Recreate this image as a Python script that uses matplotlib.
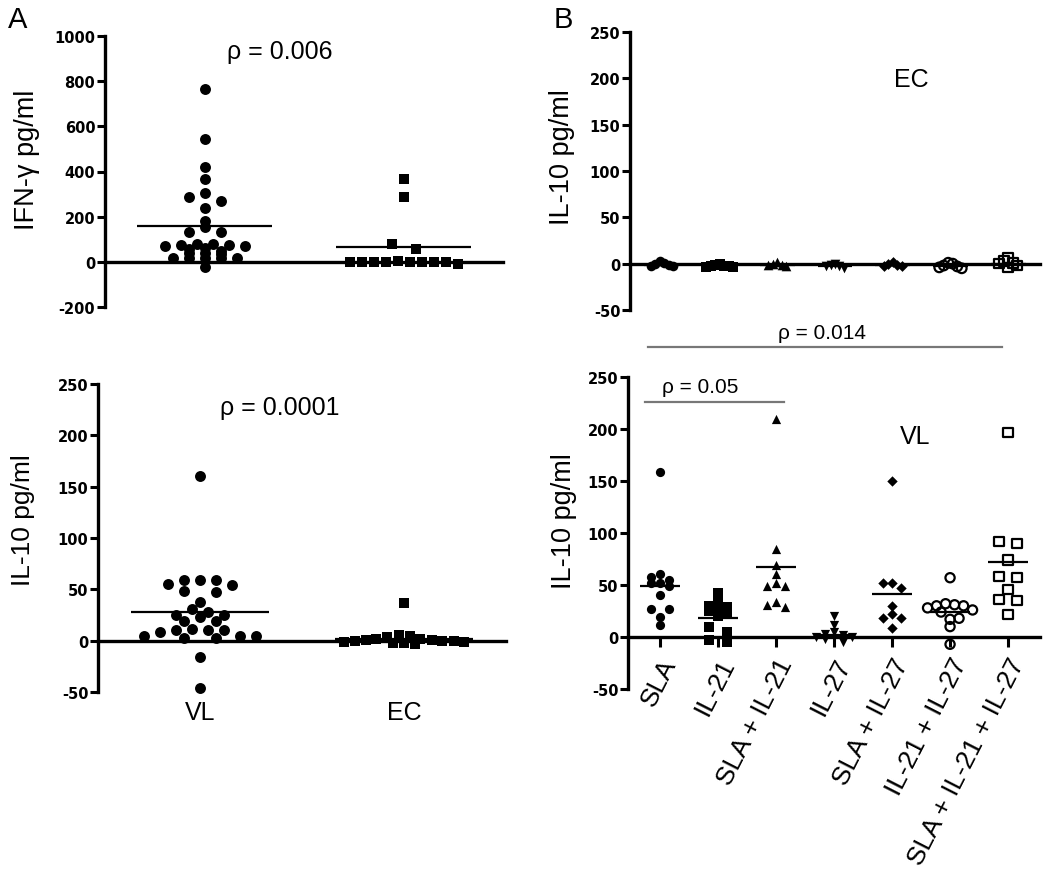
import numpy as np
import matplotlib
matplotlib.use('Agg')
import matplotlib.pyplot as plt
from matplotlib.transforms import blended_transform_factory

plt.rcParams['font.family'] = ['Liberation Sans', 'DejaVu Sans']
plt.rcParams['axes.unicode_minus'] = False

# ---------------- data ----------------
groups_A = ['VL', 'EC']
ifng_VL = [764, 546, 420, 366, 305, 285, 270, 239, 180, 153, 133, 133, 80, 78, 76, 74,
           72, 70, 60, 55, 50, 40, 38, 36, 18, 18, 18, 18, 18, -22]
ifng_EC = [365, 285, 78, 58, 3, 0, 0, 0, 0, 0, 0, 0, 0, -10]
ifng_means = [160, 66]

il10A_VL = [160, 59, 59, 59, 55, 54, 48, 47, 38, 31, 28, 25, 25, 23, 19, 19, 11, 10,
            10, 10, 8, 5, 5, 5, 3, 3, -16, -46]
il10A_EC = [37, 6, 5, 4, 2, 2, 1, 1, 0, 0, 0, -1, -1, -2, -2, -3]
il10A_means = [28, 2]

groups_B = ['SLA', 'IL-21', 'SLA + IL-21', 'IL-27', 'SLA + IL-27',
            'IL-21 + IL-27', 'SLA + IL-21 + IL-27']
# EC (upper panel B)
ec_sla = [3, 1, 0, -1, -2, -3]
ec_il21 = [0, -1, -2, -3, -3, -4, -4]
ec_sla_il21 = [2, 0, -1, -1, -2]
ec_il27 = [0, -1, -2, -3, -5]
ec_sla_il27 = [2, 0, -1, -2, -3]
ec_il21_il27 = [1, 0, -2, -3, -4, -5]
ec_all = [6, 3, 1, 0, -2, -4]
ec_means = [-1, -2, -1, -2, -1, -2, 0]
# VL (lower panel B)
vl_sla = [159, 61, 58, 55, 52, 52, 49, 40, 27, 27, 19, 12]
vl_il21 = [42, 34, 30, 29, 27, 25, 23, 20, 10, 5, -3, -5]
vl_sla_il21 = [210, 85, 69, 61, 52, 49, 49, 34, 31, 29]
vl_il27 = [20, 12, 5, 3, 2, 0, 0, -2, -5]
vl_sla_il27 = [150, 52, 52, 47, 30, 22, 18, 18, 9]
vl_il21_il27 = [57, 32, 31, 30, 30, 28, 26, 24, 18, 17, 10, -7]
vl_all = [197, 92, 90, 74, 58, 57, 46, 36, 35, 22]
vl_means = [49, 18, 67, 2, 41, 24, 72]

markers_B = ['o', 's', '^', 'v', 'D', 'o', 's']
filled_B = [True, True, True, True, True, False, False]

# ---------------- helpers ----------------
W, H = 1050, 879
fig = plt.figure(figsize=(W / 100, H / 100), dpi=100)


def px_axes(left, right, top, bottom):
    return fig.add_axes([left / W, 1 - bottom / H, (right - left) / W, (bottom - top) / H])


def swarm_x(ax, xc, values, col_px, row_px):
    """Prism-like scatter: values (sorted high->low) grouped into rows whose
    pixel span is < row_px; each row spread symmetrically with spacing col_px."""
    tr = ax.transData
    vals = np.asarray(values, dtype=float)
    ypix = np.array([tr.transform((xc, v))[1] for v in vals])
    x0 = tr.transform((xc, 0))[0]
    order = np.argsort(-vals, kind='stable')
    rows, cur = [], [order[0]]
    for i in order[1:]:
        if ypix[cur[0]] - ypix[i] < row_px:
            cur.append(i)
        else:
            rows.append(cur)
            cur = [i]
    rows.append(cur)
    offs = np.zeros(len(vals))
    for idx in rows:
        n = len(idx)
        if n == 2:
            slots = np.array([-col_px, col_px])
        else:
            slots = (np.arange(n) - (n - 1) / 2.0) * col_px
        slot_order = np.argsort(np.abs(slots) + 1e-3 * slots, kind='stable')
        for k, i in enumerate(idx):
            offs[i] = slots[slot_order[k]]
    inv = tr.inverted()
    return np.array([inv.transform((x0 + o, ypix[i]))[0] for i, o in enumerate(offs)])


def style_axes(ax, ylim, yticks):
    ax.set_ylim(*ylim)
    ax.set_yticks(yticks)
    for s in ['top', 'right']:
        ax.spines[s].set_visible(False)
    ax.spines['left'].set_linewidth(2.4)
    ax.spines['bottom'].set_linewidth(2.4)
    ax.spines['bottom'].set_position(('data', 0))
    ax.spines['left'].set_bounds(ylim[0], ylim[1])
    ax.tick_params(axis='y', direction='out', length=6, width=2.2, pad=1,
                   labelsize=10.5)
    for lab in ax.get_yticklabels():
        lab.set_fontweight('bold')
        lab.set_family('DejaVu Sans')
    ax.patch.set_alpha(0)


def draw_group(ax, xc, values, mean, marker, filled, size, col_px, row_px, half):
    xs = swarm_x(ax, xc, values, col_px, row_px)
    if filled:
        ax.scatter(xs, values, s=size, marker=marker, color='black', zorder=4,
                   clip_on=False, linewidths=0)
    else:
        ax.scatter(xs, values, s=size, marker=marker, facecolors='none',
                   edgecolors='black', linewidths=1.6, zorder=4, clip_on=False)
    ax.hlines(mean, xc - half, xc + half, color='black', lw=1.6, zorder=5)


# ---------------- Panel A top ----------------
axA1 = px_axes(105, 503, 37, 308)
axA1.set_xlim(0.5, 2.5)
style_axes(axA1, (-200, 1000), [-200, 0, 200, 400, 600, 800, 1000])
axA1.set_xticks([])
draw_group(axA1, 1, ifng_VL, ifng_means[0], 'o', True, 62, 16, 4.5, 0.34)
draw_group(axA1, 2, ifng_EC, ifng_means[1], 's', True, 52, 12, 6, 0.34)
axA1.set_ylabel('IFN-γ pg/ml', fontsize=19.5)
axA1.yaxis.set_label_coords(-0.163, 0.545)
axA1.text(1.38, 934, 'ρ = 0.006', fontsize=18, ha='center', va='center')

# ---------------- Panel A bottom ----------------
axA2 = px_axes(98, 506, 385, 693)
axA2.set_xlim(0.5, 2.5)
style_axes(axA2, (-50, 250), [-50, 0, 50, 100, 150, 200, 250])
axA2.set_xticks([])
tA2 = blended_transform_factory(axA2.transData, axA2.transAxes)
for i, g in enumerate(groups_A):
    axA2.text(i + 1, -20 / 308, g, transform=tA2, fontsize=18, ha='center', va='center')
draw_group(axA2, 1, il10A_VL, il10A_means[0], 'o', True, 62, 16, 6.5, 0.34)
draw_group(axA2, 2, il10A_EC, il10A_means[1], 's', True, 52, 11, 8, 0.34)
axA2.set_ylabel('IL-10 pg/ml', fontsize=19)
axA2.yaxis.set_label_coords(-0.155, 0.56)
axA2.text(1.39, 228, 'ρ = 0.0001', fontsize=18, ha='center', va='center')

# ---------------- Panel B top (EC) ----------------
xB = np.arange(1, len(groups_B) + 1)
axB1 = px_axes(630, 1040, 33, 311)
axB1.set_xlim(0.45, 7.55)
style_axes(axB1, (-50, 250), [-50, 0, 50, 100, 150, 200, 250])
axB1.set_xticks([])
ec_data = [ec_sla, ec_il21, ec_sla_il21, ec_il27, ec_sla_il27, ec_il21_il27, ec_all]
for i, vals in enumerate(ec_data):
    draw_group(axB1, xB[i], vals, ec_means[i], markers_B[i], filled_B[i],
               48 if markers_B[i] != 'D' else 30, 4.5, 8, 0.3)
axB1.set_ylabel('IL-10 pg/ml', fontsize=19.5)
axB1.yaxis.set_label_coords(-0.135, 0.554)
axB1.text(5.33, 199, 'EC', fontsize=18, ha='center', va='center')

# ---------------- Panel B bottom (VL) ----------------
axB2 = px_axes(628, 1040, 378, 690)
axB2.set_xlim(0.45, 7.55)
style_axes(axB2, (-50, 250), [-50, 0, 50, 100, 150, 200, 250])
vl_data = [vl_sla, vl_il21, vl_sla_il21, vl_il27, vl_sla_il27, vl_il21_il27, vl_all]
for i, vals in enumerate(vl_data):
    draw_group(axB2, xB[i], vals, vl_means[i], markers_B[i], filled_B[i],
               44 if markers_B[i] != 'D' else 28, 9, 7, 0.35)
axB2.set_xticks(xB)
axB2.set_xticklabels(groups_B, fontsize=19, rotation=63, ha='right',
                     rotation_mode='anchor')
axB2.tick_params(axis='x', direction='out', length=7, width=2.2, pad=5)
axB2.set_ylabel('IL-10 pg/ml', fontsize=19.5)
axB2.yaxis.set_label_coords(-0.124, 0.542)
axB2.text(5.4, 193, 'VL', fontsize=18, ha='center', va='center')
# significance bars
axB2.plot([0.8, 6.9], [279, 279], color='#777777', lw=1.6, clip_on=False)
axB2.text(3.8, 284, 'ρ = 0.014', fontsize=15, ha='center', va='bottom')
axB2.plot([0.74, 3.14], [226, 226], color='#777777', lw=1.6, clip_on=False)
axB2.text(1.7, 232, 'ρ = 0.05', fontsize=15, ha='center', va='bottom')

# panel letters
fig.text(18 / W, 1 - 20 / H, 'A', fontsize=21, ha='center', va='center')
fig.text(563 / W, 1 - 20 / H, 'B', fontsize=21, ha='center', va='center')

fig.savefig('out.png', dpi=100)
